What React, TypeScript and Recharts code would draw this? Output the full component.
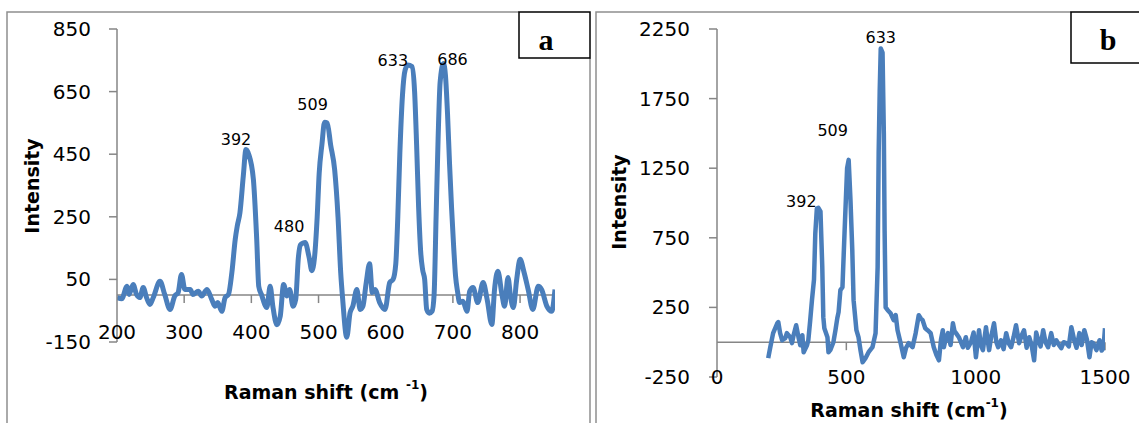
import React from 'react';
import { ComposedChart, Line, Scatter, XAxis, YAxis, ReferenceLine } from 'recharts';

// Spectrum a (200-852 cm-1)
const shiftA = [
  200, 207, 215, 218, 224, 229, 234, 239, 244, 249, 254, 264, 271, 279, 286, 291, 296, 301, 309, 313,
  321, 326, 334, 341, 346, 350, 356, 361, 366, 371, 376, 379, 383, 388, 392, 396, 403, 408, 411, 415,
  423, 428, 432, 438, 443, 448, 453, 457, 462, 466, 470, 473, 477, 480, 486, 490, 494, 498, 501, 505,
  509, 513, 518, 524, 529, 533, 536, 542, 547, 551, 557, 562, 566, 571, 576, 580, 584, 591, 599, 606,
  611, 615, 618, 621, 625, 629, 633, 639, 643, 646, 649, 652, 655, 658, 661, 665, 669, 672, 675, 678,
  681, 686, 689, 692, 695, 698, 701, 704, 707, 710, 715, 721, 725, 730, 737, 745, 751, 758, 762, 767,
  773, 777, 782, 786, 790, 795, 800, 806, 812, 819, 827, 832, 840, 847, 852,
];
const intensityA = [
  -8, -12, 28, 2, 34, 2, -8, 24, -8, -30, -8, 44, 2, -46, -3, 8, 66, 18, 18, 2,
  12, -3, 18, -14, -36, -24, -52, -8, 2, 72, 178, 220, 263, 380, 465, 450, 370, 177, 28, 2,
  -40, 28, -36, -95, -68, 34, -3, 18, -36, -14, 120, 160, 166, 168, 120, 78, 120, 250, 390, 480,
  552, 550, 480, 400, 250, 72, -15, -135, -56, -36, 18, -46, -36, 40, 100, 8, 18, -24, -46, 40,
  50, 100, 250, 450, 640, 720, 735, 730, 650, 480, 280, 140, 80, 50, -46, -58, -52, 0, 250, 500,
  680, 740, 700, 580, 420, 280, 160, 60, 10, -24, -20, -52, 12, 24, -24, 40, -14, -94, 18, 76,
  2, -36, 56, -8, -40, 50, 114, 72, 18, -46, 28, 18, -36, -52, 18,
];
const peakShiftA = [392, 480, 509, 633, 686];

// Spectrum b (200-1500 cm-1)
const shiftB = [
  198, 206, 217, 233, 237, 244, 252, 264, 270, 283, 290, 296, 306, 315, 322, 330, 335, 348, 353, 360,
  367, 375, 380, 386, 392, 400, 407, 411, 415, 427, 431, 438, 450, 458, 465, 470, 477, 485, 493, 503,
  509, 516, 523, 528, 539, 547, 555, 563, 574, 586, 601, 613, 621, 625, 629, 633, 640, 645, 648, 652,
  660, 671, 683, 691, 698, 710, 722, 731, 741, 756, 768, 780, 788, 795, 805, 814, 826, 838, 848, 858,
  866, 873, 877, 885, 893, 903, 912, 918, 924, 935, 951, 962, 970, 982, 992, 1001, 1013, 1020, 1028, 1040,
  1046, 1052, 1060, 1071, 1080, 1087, 1098, 1108, 1118, 1128, 1137, 1147, 1156, 1168, 1178, 1187, 1197, 1207, 1216, 1226,
  1234, 1242, 1251, 1261, 1270, 1280, 1292, 1302, 1312, 1322, 1331, 1340, 1350, 1360, 1370, 1381, 1390, 1401, 1410, 1420,
  1430, 1440, 1448, 1455, 1467, 1479, 1487, 1494, 1500,
];
const intensityB = [
  -115, -36, 65, 136, 144, 65, 14, 29, 65, 36, -7, 50, 122, 36, -22, 50, -72, -22, 14, 150,
  300, 450, 780, 960, 965, 940, 540, 180, 100, 36, -72, -57, 0, 86, 172, 216, 374, 395, 783, 1250,
  1310, 1020, 661, 302, 86, 36, -60, -144, -115, -72, -36, 65, 540, 1358, 1800, 2110, 2080, 1500, 800, 250,
  230, 208, 158, 194, 86, -7, -108, -40, -7, -36, 65, 194, 170, 158, 100, 86, 65, -36, -90, -130,
  20, 86, -36, 30, 65, -20, 136, 80, 65, 36, -36, 36, -40, 0, 70, -108, 86, -20, -57, 108,
  20, -57, 40, 136, 0, -36, 14, -50, 65, -10, -36, 40, 122, -7, 50, 86, -40, 36, -20, -130,
  70, 14, -30, 86, 0, -36, 65, -20, 14, -20, -43, 0, -7, -30, 108, 14, -40, 65, -20, 86,
  20, -108, 0, -7, -57, 14, -60, -43, 100,
];
const peakShiftB = [392, 509, 633];

// Axis ticks
const ticksXA = [200, 300, 400, 500, 600, 700, 800];
const ticksYA = [-150, 50, 250, 450, 650, 850];
const ticksXB = [0, 500, 1000, 1500];
const ticksYB = [-250, 250, 750, 1250, 1750, 2250];

// label offsets (px) from each peak top
const labelNudgeA = [[-10, -10], [-16, -16], [-12, -18], [-15, -4], [9, -4]];
const labelNudgeB = [[-17, -6], [-16, -29], [0, -11]];

const BLUE = '#4a7ebb';
const AXIS = '#868686';
const FRAME = '#8f8f8f';
const SANS = "'DejaVu Sans', sans-serif";
const SERIF = "'Liberation Serif', 'Times New Roman', serif";
const TICK_SIZE = 20;

const toRows = (xs: number[], ys: number[]) => xs.map((x, i) => ({ x, y: ys[i] }));

const toPeaks = (peaks: number[], xs: number[], ys: number[], nudge: number[][]) =>
  peaks.map((p, i) => ({ x: p, y: ys[xs.indexOf(p)], dx: nudge[i][0], dy: nudge[i][1] }));

const PeakLabel = (props: any) => {
  const { cx, cy, payload } = props;
  if (cx == null || cy == null) return null;
  return (
    <text
      x={cx + payload.dx}
      y={cy + payload.dy}
      textAnchor="middle"
      dominantBaseline="central"
      fontFamily={SANS}
      fontSize={16}
      fill="#000"
    >
      {payload.x}
    </text>
  );
};

// x labels sit near the bottom of the plot, not under the zero line
const xTick = (lift: number) => (props: any) => (
  <text
    x={props.x}
    y={props.y - lift}
    textAnchor="middle"
    dominantBaseline="central"
    fontFamily={SANS}
    fontSize={TICK_SIZE}
    fill="#000"
  >
    {props.payload.value}
  </text>
);

const yTick = (props: any) => (
  <text
    x={props.x}
    y={props.y}
    textAnchor="end"
    dominantBaseline="central"
    fontFamily={SANS}
    fontSize={TICK_SIZE}
    fill="#000"
  >
    {props.payload.value}
  </text>
);

interface PanelProps {
  rows: { x: number; y: number }[];
  peaks: { x: number; y: number; dx: number; dy: number }[];
  width: number;
  margin: { top: number; right: number; bottom: number; left: number };
  yAxisWidth: number;
  xDomain: [number, number];
  yDomain: [number, number];
  xTicks: number[];
  yTicks: number[];
  labelLift: number;
  tickGap: number;
  lineType: 'monotone' | 'linear';
  strokeWidth: number;
}

const X_AXIS_HEIGHT = 30;

const SpectrumPanel: React.FC<PanelProps> = ({
  rows, peaks, width, margin, yAxisWidth, xDomain, yDomain, xTicks, yTicks,
  labelLift, tickGap, lineType, strokeWidth,
}) => {
  const height = 423;
  const plotHeight = height - margin.top - margin.bottom - X_AXIS_HEIGHT;
  // tick marks hang 8px below the zero line
  const tickDepth = (8 * (yDomain[1] - yDomain[0])) / plotHeight;

  return (
    <ComposedChart width={width} height={height} margin={margin}>
      <XAxis
        type="number"
        dataKey="x"
        domain={xDomain}
        ticks={xTicks}
        interval={0}
        allowDataOverflow
        axisLine={false}
        tickLine={false}
        tickSize={0}
        tickMargin={0}
        height={X_AXIS_HEIGHT}
        tick={xTick(labelLift)}
      />
      <YAxis
        type="number"
        domain={yDomain}
        ticks={yTicks}
        interval={0}
        allowDataOverflow
        width={yAxisWidth}
        axisLine={{ stroke: AXIS, strokeWidth: 1.5 }}
        tickLine={{ stroke: AXIS, strokeWidth: 1.5 }}
        tickSize={8}
        tickMargin={tickGap}
        tick={yTick}
      />
      <ReferenceLine y={0} stroke={AXIS} strokeWidth={1.5} />
      {xTicks.slice(1).map(t => (
        <ReferenceLine
          key={t}
          segment={[{ x: t, y: 0 }, { x: t, y: -tickDepth }]}
          stroke={AXIS}
          strokeWidth={1.5}
        />
      ))}
      <Line
        data={rows}
        dataKey="y"
        type={lineType}
        stroke={BLUE}
        strokeWidth={strokeWidth}
        strokeLinejoin="round"
        dot={false}
        isAnimationActive={false}
      />
      <Scatter data={peaks} dataKey="y" shape={PeakLabel} isAnimationActive={false} />
    </ComposedChart>
  );
};

const App: React.FC = () => {
  const rowsA = toRows(shiftA, intensityA);
  const rowsB = toRows(shiftB, intensityB);
  const peaksA = toPeaks(peakShiftA, shiftA, intensityA, labelNudgeA);
  const peaksB = toPeaks(peakShiftB, shiftB, intensityB, labelNudgeB);

  return (
    <div style={{ position: 'fixed', left: 0, top: 0, width: 1139, height: 423, background: '#fff', overflow: 'hidden' }}>
      <div style={{ position: 'absolute', left: 0, top: 0 }}>
        <SpectrumPanel
          rows={rowsA}
          peaks={peaksA}
          width={600}
          margin={{ top: 29, right: 45, bottom: 81 - X_AXIS_HEIGHT, left: 0 }}
          yAxisWidth={117}
          xDomain={[200, 852]}
          yDomain={[-150, 850]}
          xTicks={ticksXA}
          yTicks={ticksYA}
          labelLift={10}
          tickGap={18}
          lineType="monotone"
          strokeWidth={5}
        />
      </div>
      <div style={{ position: 'absolute', left: 596, top: 0 }}>
        <SpectrumPanel
          rows={rowsB}
          peaks={peaksB}
          width={543}
          margin={{ top: 29, right: 34, bottom: 46 - X_AXIS_HEIGHT, left: 0 }}
          yAxisWidth={121}
          xDomain={[0, 1500]}
          yDomain={[-250, 2250]}
          xTicks={ticksXB}
          yTicks={ticksYB}
          labelLift={0}
          tickGap={19}
          lineType="linear"
          strokeWidth={4.5}
        />
      </div>
      <svg width={1139} height={423} style={{ position: 'absolute', left: 0, top: 0, pointerEvents: 'none' }}>
        {/* panel frames */}
        <path d="M7,423 V12 H519" fill="none" stroke={FRAME} strokeWidth={1.5} />
        <path d="M590,58 V423" fill="none" stroke={FRAME} strokeWidth={1.5} />
        <path d="M596,423 V12 H1071" fill="none" stroke={FRAME} strokeWidth={1.5} />

        {/* panel tags */}
        <rect x={519} y={12} width={71} height={46} fill="#fff" stroke="#000" strokeWidth={1.5} />
        <text x={546} y={50} textAnchor="middle" fontFamily={SERIF} fontWeight="bold" fontSize={30}>a</text>
        <rect x={1071} y={12} width={90} height={51} fill="#fff" stroke="#000" strokeWidth={1.5} />
        <text x={1108} y={50} textAnchor="middle" fontFamily={SERIF} fontWeight="bold" fontSize={30}>b</text>

        {/* axis titles */}
        <text
          x={32}
          y={186}
          transform="rotate(-90 32 186)"
          textAnchor="middle"
          dominantBaseline="central"
          fontFamily={SANS}
          fontWeight="bold"
          fontSize={19}
        >
          Intensity
        </text>
        <text
          x={619}
          y={202}
          transform="rotate(-90 619 202)"
          textAnchor="middle"
          dominantBaseline="central"
          fontFamily={SANS}
          fontWeight="bold"
          fontSize={19}
        >
          Intensity
        </text>
        <text x={326} y={392} textAnchor="middle" dominantBaseline="central" fontFamily={SANS} fontWeight="bold" fontSize={19}>
          Raman shift (cm <tspan fontSize={12} dy={-7}>-1</tspan><tspan dy={7}>)</tspan>
        </text>
        <text x={909} y={410} textAnchor="middle" dominantBaseline="central" fontFamily={SANS} fontWeight="bold" fontSize={19}>
          Raman shift (cm<tspan fontSize={12} dy={-7}>-1</tspan><tspan dy={7}>)</tspan>
        </text>
      </svg>
    </div>
  );
};

export default App;
